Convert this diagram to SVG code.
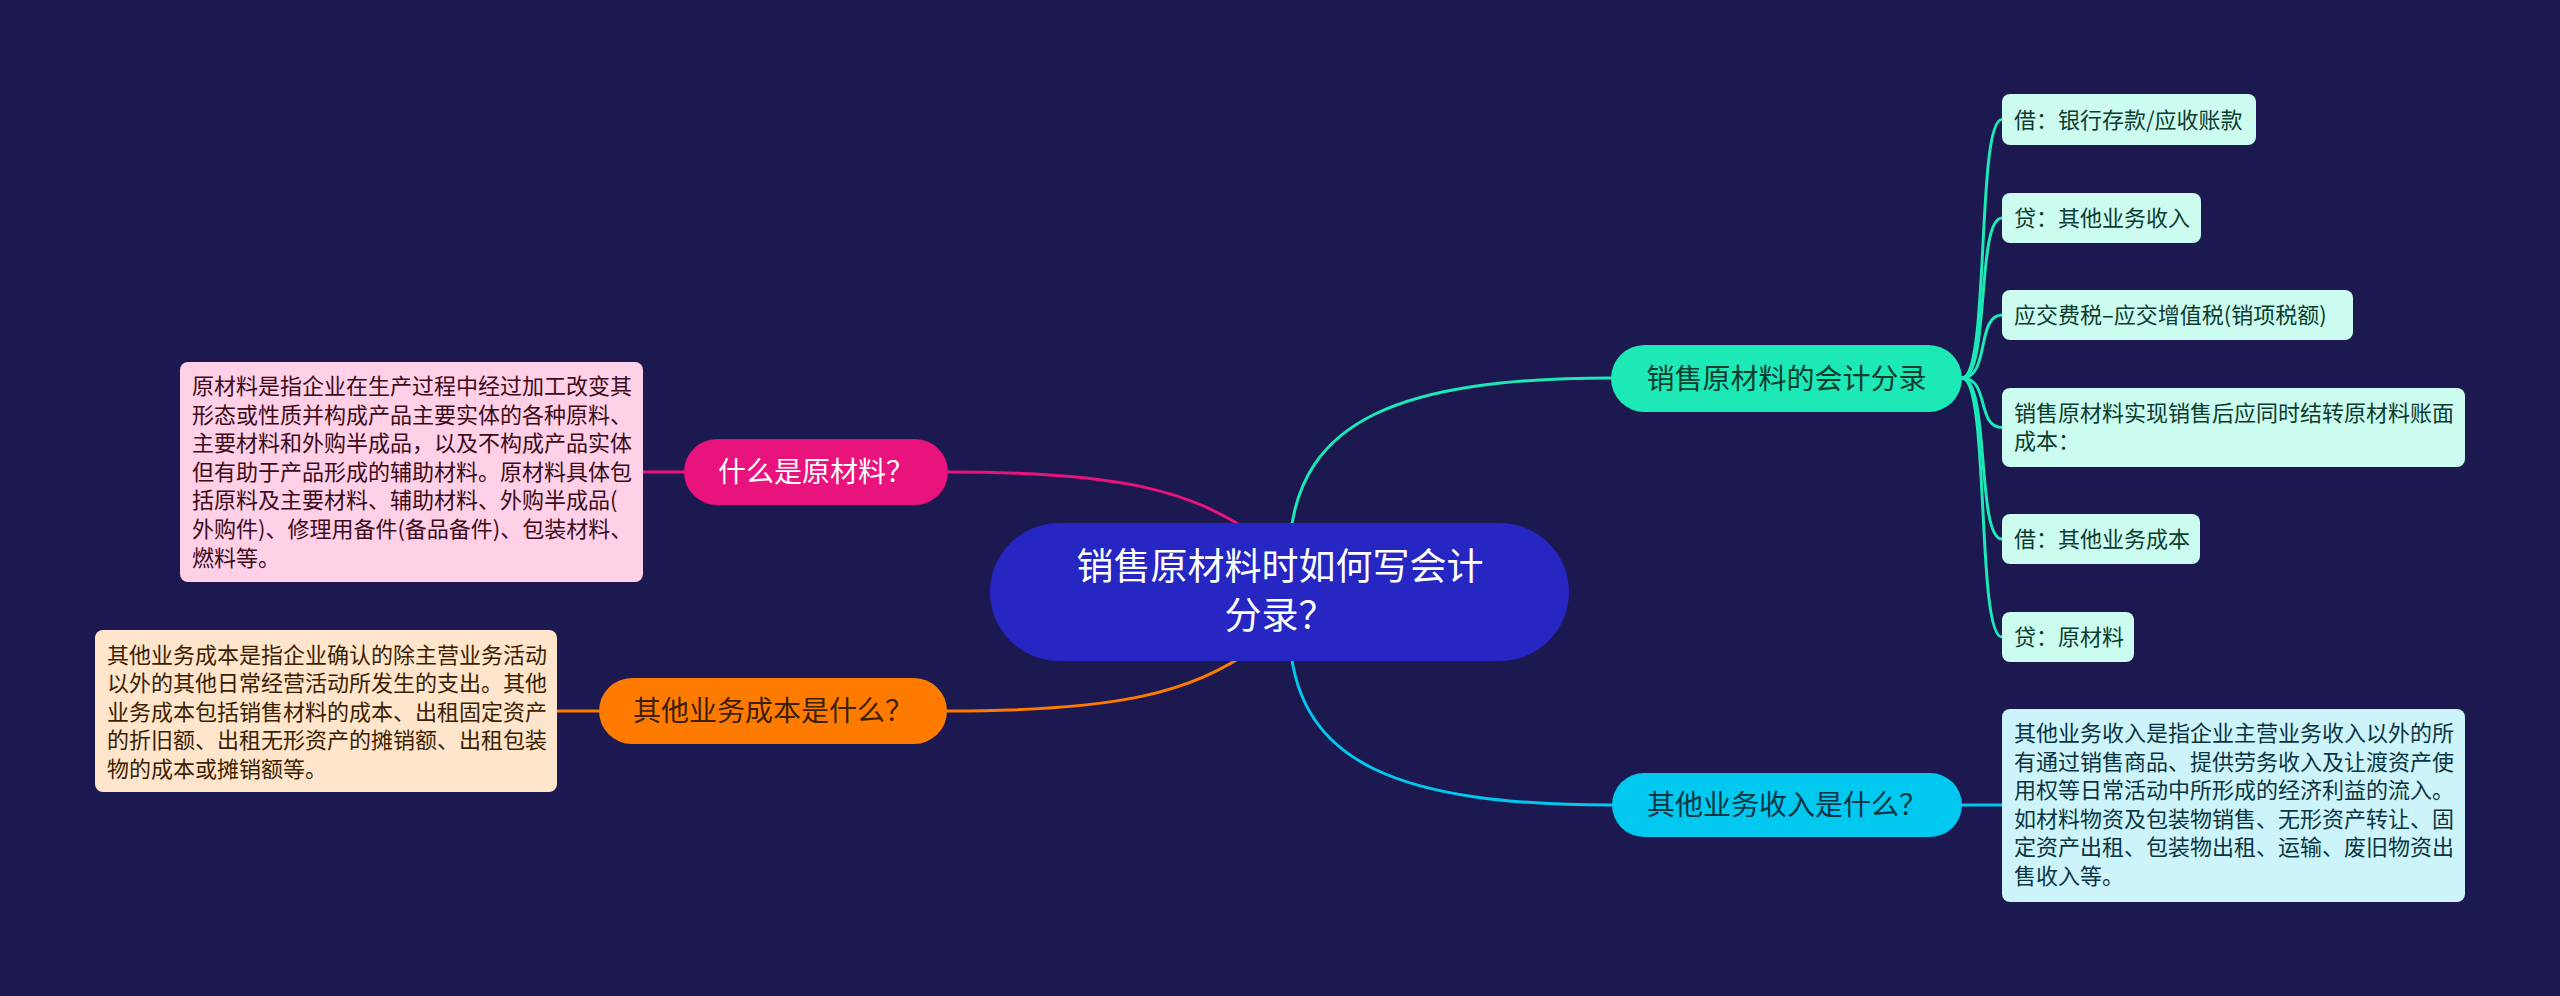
<svg xmlns="http://www.w3.org/2000/svg" width="2560" height="996" viewBox="0 0 2560 996">
<style>
text{font-family:"Noto Sans CJK SC","Noto Sans",sans-serif}
.root{font-size:37px;fill:#ffffff}
.br{font-size:28px}
.tx{font-size:22px}
.c{stroke-width:3;fill:none;stroke-linecap:round}
</style>
<rect x="0" y="0" width="2560" height="996" fill="#1b1950"/>
<g id="connectors">
<path class="c" stroke="#e8137c" d="M948,472 C1120,472 1190,490 1255,535"/>
<path class="c" stroke="#ff7b00" d="M947,711 C1120,711 1190,693 1255,648"/>
<path class="c" stroke="#1de9b6" d="M1290,540 C1300,420 1400,378 1611,378"/>
<path class="c" stroke="#00c8ef" d="M1290,644 C1300,764 1400,805 1612,805"/>
<path class="c" stroke="#e8137c" d="M643,472 L684,472"/>
<path class="c" stroke="#ff7b00" d="M557,711 L599,711"/>
<path class="c" stroke="#00c8ef" d="M1962,805 L2002,805"/>
<path class="c" stroke="#1de9b6" d="M1962,378 C1990,378 1976,119.5 2002,119.5"/>
<path class="c" stroke="#1de9b6" d="M1962,378 C1990,378 1976,218 2002,218"/>
<path class="c" stroke="#1de9b6" d="M1962,378 C1990,378 1976,315 2002,315"/>
<path class="c" stroke="#1de9b6" d="M1962,378 C1990,378 1976,427.5 2002,427.5"/>
<path class="c" stroke="#1de9b6" d="M1962,378 C1990,378 1976,539 2002,539"/>
<path class="c" stroke="#1de9b6" d="M1962,378 C1990,378 1976,637 2002,637"/>
</g>
<g id="root">
<rect x="990" y="523" width="579" height="138" rx="69" fill="#2626c2"/>
<text class="root" x="1280" y="580" text-anchor="middle">销售原材料时如何写会计</text>
<text class="root" x="1280" y="629" text-anchor="middle">分录？</text>
</g>
<g id="b-what-raw">
<rect x="684" y="439" width="264" height="66" rx="33" fill="#e8137c"/>
<text class="br" x="816" y="482" text-anchor="middle" fill="#ffffff">什么是原材料？</text>
</g>
<g id="t-what-raw">
<rect x="180" y="362" width="463" height="220" rx="8" fill="#ffd0e6"/>
<text class="tx" fill="#3b0b1c">
<tspan x="192" y="394">原材料是指企业在生产过程中经过加工改变其</tspan>
<tspan x="192" y="422.6">形态或性质并构成产品主要实体的各种原料、</tspan>
<tspan x="192" y="451.2">主要材料和外购半成品，以及不构成产品实体</tspan>
<tspan x="192" y="479.8">但有助于产品形成的辅助材料。原材料具体包</tspan>
<tspan x="192" y="508.4">括原料及主要材料、辅助材料、外购半成品(</tspan>
<tspan x="192" y="537">外购件)、修理用备件(备品备件)、包装材料、</tspan>
<tspan x="192" y="565.6">燃料等。</tspan>
</text>
</g>
<g id="b-other-cost">
<rect x="599" y="678" width="348" height="66" rx="33" fill="#ff7b00"/>
<text class="br" x="773" y="721" text-anchor="middle" fill="#3b1f00">其他业务成本是什么？</text>
</g>
<g id="t-other-cost">
<rect x="95" y="630" width="462" height="162" rx="8" fill="#ffe5cc"/>
<text class="tx" fill="#3b1f00">
<tspan x="107" y="662.5">其他业务成本是指企业确认的除主营业务活动</tspan>
<tspan x="107" y="691.1">以外的其他日常经营活动所发生的支出。其他</tspan>
<tspan x="107" y="719.7">业务成本包括销售材料的成本、出租固定资产</tspan>
<tspan x="107" y="748.3">的折旧额、出租无形资产的摊销额、出租包装</tspan>
<tspan x="107" y="776.9">物的成本或摊销额等。</tspan>
</text>
</g>
<g id="b-entries">
<rect x="1611" y="345" width="351" height="67" rx="33.5" fill="#1de9b6"/>
<text class="br" x="1786.5" y="388.5" text-anchor="middle" fill="#0c3b2f">销售原材料的会计分录</text>
</g>
<g id="leaf1">
<rect x="2002" y="94" width="254" height="51" rx="8" fill="#ccfbef"/>
<text class="tx" x="2014" y="127.5" fill="#0c3b2f">借：银行存款/应收账款</text>
</g>
<g id="leaf2">
<rect x="2002" y="193" width="199" height="50" rx="8" fill="#ccfbef"/>
<text class="tx" x="2014" y="226" fill="#0c3b2f">贷：其他业务收入</text>
</g>
<g id="leaf3">
<rect x="2002" y="290" width="351" height="50" rx="8" fill="#ccfbef"/>
<text class="tx" x="2014" y="323" fill="#0c3b2f">应交费税–应交增值税(销项税额)</text>
</g>
<g id="leaf4">
<rect x="2002" y="388" width="463" height="79" rx="8" fill="#ccfbef"/>
<text class="tx" fill="#0c3b2f"><tspan x="2014" y="420.5">销售原材料实现销售后应同时结转原材料账面</tspan><tspan x="2014" y="449">成本：</tspan></text>
</g>
<g id="leaf5">
<rect x="2002" y="514" width="198" height="50" rx="8" fill="#ccfbef"/>
<text class="tx" x="2014" y="547" fill="#0c3b2f">借：其他业务成本</text>
</g>
<g id="leaf6">
<rect x="2002" y="612" width="132" height="50" rx="8" fill="#ccfbef"/>
<text class="tx" x="2014" y="645" fill="#0c3b2f">贷：原材料</text>
</g>
<g id="b-other-income">
<rect x="1612" y="773" width="350" height="64" rx="32" fill="#00c8ef"/>
<text class="br" x="1787" y="815" text-anchor="middle" fill="#0b3442">其他业务收入是什么？</text>
</g>
<g id="t-other-income">
<rect x="2002" y="709" width="463" height="193" rx="8" fill="#cdf4fb"/>
<text class="tx" fill="#0b3442">
<tspan x="2014" y="741">其他业务收入是指企业主营业务收入以外的所</tspan>
<tspan x="2014" y="769.6">有通过销售商品、提供劳务收入及让渡资产使</tspan>
<tspan x="2014" y="798.2">用权等日常活动中所形成的经济利益的流入。</tspan>
<tspan x="2014" y="826.8">如材料物资及包装物销售、无形资产转让、固</tspan>
<tspan x="2014" y="855.4">定资产出租、包装物出租、运输、废旧物资出</tspan>
<tspan x="2014" y="884">售收入等。</tspan>
</text>
</g>
</svg>
